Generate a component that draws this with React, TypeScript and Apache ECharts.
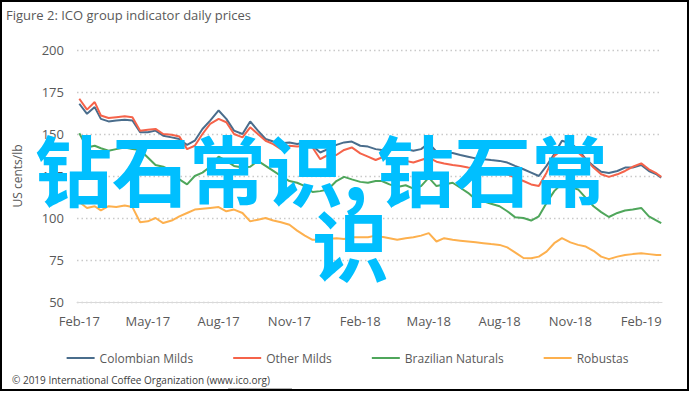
import React, { useEffect, useRef } from "react";
import * as echarts from "echarts";

const titleText = "Figure 2: ICO group indicator daily prices";
const yAxisName = "US cents/lb";
const footerText = "© 2019 International Coffee Organization (www.ico.org)";
const seriesNames = ["Colombian Milds", "Other Milds", "Brazilian Naturals", "Robustas"];
const seriesColors = ["#4A6D8C", "#F5634A", "#4FA65B", "#FDB04E"];
const monthNames = ["Jan", "Feb", "Mar", "Apr", "May", "Jun", "Jul", "Aug", "Sep", "Oct", "Nov", "Dec"];
const tickMonths = ["2017-02-01", "2017-05-01", "2017-08-01", "2017-11-01", "2018-02-01", "2018-05-01", "2018-08-01", "2018-11-01", "2019-02-01"];

const dates = [
  "2017-02-01", "2017-02-11", "2017-02-21", "2017-03-01", "2017-03-11", "2017-03-21", "2017-04-01", "2017-04-11", "2017-04-21",
  "2017-05-01", "2017-05-11", "2017-05-21", "2017-06-01", "2017-06-11", "2017-06-21", "2017-07-01", "2017-07-11", "2017-07-21",
  "2017-08-01", "2017-08-11", "2017-08-21", "2017-09-01", "2017-09-11", "2017-09-21", "2017-10-01", "2017-10-11", "2017-10-21",
  "2017-11-01", "2017-11-11", "2017-11-21", "2017-12-01", "2017-12-11", "2017-12-21",
  "2018-01-01", "2018-01-11", "2018-01-21", "2018-02-01", "2018-02-11", "2018-02-21", "2018-03-01", "2018-03-11", "2018-03-21",
  "2018-04-01", "2018-04-11", "2018-04-21", "2018-05-01", "2018-05-11", "2018-05-21", "2018-06-01", "2018-06-11", "2018-06-21",
  "2018-07-01", "2018-07-11", "2018-07-21", "2018-08-01", "2018-08-11", "2018-08-21", "2018-09-01", "2018-09-11", "2018-09-21",
  "2018-10-01", "2018-10-11", "2018-10-21", "2018-11-01", "2018-11-11", "2018-11-21", "2018-12-01", "2018-12-11", "2018-12-21",
  "2019-01-01", "2019-01-11", "2019-01-21", "2019-02-01", "2019-02-11", "2019-02-21", "2019-02-27",
];

const colombianMilds = [
  168, 162, 166, 159, 157.5, 158, 158.5, 158, 151, 151, 152, 149, 148, 147, 143.5, 146, 153, 158,
  164, 159, 152, 150, 157.5, 152, 147, 145.5, 144.5, 145, 144, 145, 143, 139, 141,
  143.5, 145, 145.5, 143, 142.5, 141, 140.5, 141, 140.5, 141, 140, 141, 144.5, 139.5, 139, 138.7, 137.5, 136.5,
  135.5, 135, 134.5, 134, 133, 131, 129, 127, 125, 131, 138, 146, 144.5, 141, 135, 131, 127.5, 126.8,
  128, 130, 130, 131.5, 128, 126, 124,
];

const otherMilds = [
  171, 164.5, 169, 161, 159.5, 160, 160.5, 160, 152, 152.5, 153, 150, 149.5, 148.5, 141, 143, 150, 156,
  159, 157, 150, 148, 154, 150, 146, 144, 141, 143, 142.5, 143, 142, 135, 137.5,
  137.5, 140.5, 142, 138.5, 136.5, 134.5, 136, 135, 135.5, 134, 133, 134.5, 136, 133.5, 132.5, 131.5, 131, 130,
  129.5, 129, 128, 127, 126, 124, 122, 120, 119, 127, 137, 140.5, 140, 139, 135, 130, 126, 124.5,
  126, 128, 130.5, 132.5, 129, 126.5, 124.5,
];

const brazilianNaturals = [
  150.5, 142, 143, 141.5, 140, 141, 142, 141, 140.5, 136, 131.5, 130.5, 128, 123, 120, 125, 127, 130.5,
  136.5, 134, 131, 130, 130.5, 134, 131, 128, 125, 122, 121, 119, 115.5, 116, 117,
  122, 124.5, 123, 121.5, 121, 122, 122, 120, 118.5, 119.5, 117.5, 119, 124, 119, 120, 121, 118, 115,
  111, 110, 108.5, 107, 104, 100.5, 100, 98.5, 101, 109, 116, 120.5, 118.5, 117, 112, 107, 103.5, 100.6,
  103, 104.5, 105, 106, 101, 98.5, 97,
];

const robustas = [
  109.5, 106, 107, 104.5, 107, 106.5, 107.5, 106.5, 97.5, 98, 100, 97, 98.5, 101, 103, 105, 105.5, 106,
  106.5, 104, 105, 103, 98, 99, 100, 98.5, 97.5, 96, 92.5, 89.5, 87, 87, 87.5,
  88, 87.5, 88.5, 88.5, 88.5, 89.5, 88.8, 88, 87, 88, 88.5, 89.5, 91, 86, 88, 87, 86.5, 86,
  85.5, 85, 84.5, 84, 82.5, 79.5, 76.2, 76, 77, 80, 85, 88, 85.5, 84, 83, 80.5, 77, 75.5,
  77, 78, 78.5, 79, 78.5, 78, 78,
];

const seriesValues = [colombianMilds, otherMilds, brazilianNaturals, robustas];

function parseLocal(s: string): number {
  const [y, m, d] = s.split("-").map(Number);
  return new Date(y, m - 1, d).getTime();
}

export default function App() {
  const ref = useRef<HTMLDivElement>(null);

  useEffect(() => {
    if (!ref.current) return;
    const chart = echarts.init(ref.current, undefined, { renderer: "svg" });
    const font = "'Open Sans', 'Noto Sans', sans-serif";
    const tickValues = tickMonths.map(parseLocal);

    const option: any = {
      animation: false,
      backgroundColor: "#ffffff",
      grid: { left: 77, right: 33, top: 50, bottom: 92, containLabel: false },
      xAxis: {
        type: "value",
        min: parseLocal("2017-01-29"),
        max: parseLocal("2019-02-28"),
        axisLine: { show: true, onZero: false, lineStyle: { color: "#D9D9D9", width: 1 } },
        axisTick: { show: false },
        splitLine: { show: false },
        axisLabel: {
          customValues: tickValues,
          color: "#595959",
          fontSize: 13,
          fontFamily: font,
          margin: 12,
          hideOverlap: false,
          showMinLabel: true,
          showMaxLabel: true,
          formatter: (v: number) => {
            const d = new Date(v);
            return monthNames[d.getMonth()] + "-" + String(d.getFullYear()).slice(2);
          },
        },
      },
      yAxis: {
        type: "value",
        min: 50,
        max: 200,
        interval: 25,
        name: yAxisName,
        nameLocation: "middle",
        nameGap: 54,
        nameTextStyle: { color: "#595959", fontSize: 12, fontFamily: font },
        axisLine: { show: false },
        axisTick: { show: false },
        axisLabel: { color: "#595959", fontSize: 13, fontFamily: font, margin: 13 },
        splitLine: { show: true, lineStyle: { color: "#C9C9C9", width: 1.3, type: [1.5, 3] } },
      },
      legend: {
        data: seriesNames,
        left: "center",
        top: 347,
        icon: "rect",
        itemWidth: 28,
        itemHeight: 2,
        itemGap: 40,
        textStyle: { color: "#595959", fontSize: 12, fontFamily: font },
      },
      series: seriesNames.map((name, i) => ({
        name,
        type: "line",
        showSymbol: false,
        symbol: "none",
        color: seriesColors[i],
        lineStyle: { width: 2, color: seriesColors[i] },
        data: dates.map((d, j) => [parseLocal(d), seriesValues[i][j]]),
      })),
      graphic: [
        {
          type: "rect",
          shape: { x: 1, y: 1, width: 687, height: 389 },
          style: { fill: "none", stroke: "#000000", lineWidth: 2 },
          silent: true,
          z: 1,
        },
        {
          type: "text",
          left: 6,
          top: 8,
          style: { text: titleText, fill: "#595959", font: `13px ${font}` },
        },
        {
          type: "text",
          left: 12,
          top: 375,
          style: { text: footerText, fill: "#404040", font: `10px ${font}` },
        },
        {
          type: "line",
          shape: { x1: 228, y1: 389, x2: 292, y2: 389 },
          style: { stroke: "#404040", lineWidth: 0.8 },
        },
        {
          type: "text",
          x: 35,
          y: 129,
          z: 100,
          style: { text: "钻石常识,", fill: "#00BFFF", font: `bold 77px 'Noto Sans CJK SC', sans-serif` },
        },
        {
          type: "text",
          x: 377,
          y: 129,
          z: 100,
          style: { text: "钻石常", fill: "#00BFFF", font: `bold 77px 'Noto Sans CJK SC', sans-serif` },
        },
        {
          type: "text",
          x: 312,
          y: 204,
          z: 100,
          style: { text: "识", fill: "#00BFFF", font: `bold 77px 'Noto Sans CJK SC', sans-serif` },
        },
      ],
    };

    chart.setOption(option);
    return () => chart.dispose();
  }, []);

  return (
    <div
      ref={ref}
      style={{ position: "fixed", left: 0, top: 0, width: 695, height: 394, background: "#fff" }}
    />
  );
}
